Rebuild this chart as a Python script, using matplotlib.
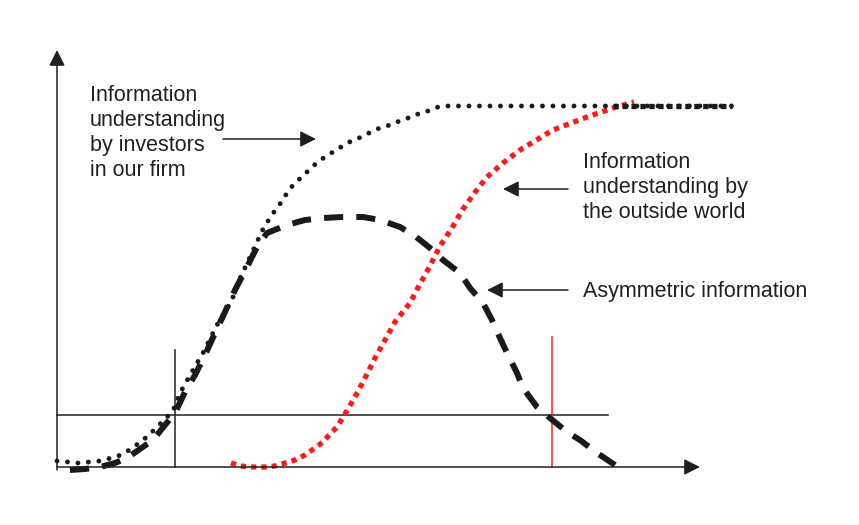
import matplotlib.pyplot as plt

plt.rcParams["font.family"] = ["Liberation Sans", "DejaVu Sans"]

INK = "#231f20"
RED = "#ff1a1a"

# Curves: (time, level), origin at the axes corner
INVESTORS_T = [0, 11, 21, 32, 43, 54, 64, 74, 82, 91, 99, 106, 116, 123, 140, 145,
               160, 175, 180, 193, 207, 213, 219, 226, 231, 238, 246, 254, 262, 271,
               281, 290, 300, 310, 320, 330, 340, 351, 361, 371, 381, 391, 675]
INVESTORS_V = [6, 5, 4, 5, 6, 9, 12, 18, 24, 31, 39, 46, 56, 74, 104, 112,
               142, 167, 182, 210, 240, 249, 258, 267, 276, 284, 291, 299, 306, 312,
               318, 324, 328, 333, 338, 341, 345, 349, 353, 356, 360, 361, 361]

ASYM_T = [13, 28, 43, 58, 70, 83, 96, 108, 118, 128, 138, 148, 158, 168, 178, 190,
          200, 210, 230, 248, 266, 285, 306, 323, 343, 358, 373, 386, 403, 413, 426,
          435, 443, 451, 460, 466, 480, 493, 510, 523, 540, 561]
ASYM_V = [-3, -2, 0, 4, 9, 18, 27, 42, 54, 75, 92, 112, 134, 155, 177, 200,
          220, 234, 242, 247, 249, 250, 250, 247, 240, 231, 219, 207, 194, 179, 164,
          147, 129, 112, 94, 79, 60, 49, 35, 27, 14, 0]

OUTSIDE_T = [174, 183, 196, 208, 218, 228, 238, 248, 258, 266, 273, 280, 288, 298,
             308, 318, 328, 338, 353, 363, 373, 383, 395, 406, 419, 430, 446, 463,
             496, 530, 556, 577]
OUTSIDE_V = [4, 1, 0, 0, 1, 4, 7, 12, 19, 25, 33, 40, 53, 70, 89, 109, 127, 145,
             164, 183, 201, 221, 239, 258, 276, 290, 304, 317, 337, 350, 359, 365]

MERGED_T = [556, 675]
MERGED_V = [361, 361]

THRESHOLD = 52
T_INVESTORS = 118
T_OUTSIDE = 495

LABELS = [
    "Information\nunderstanding\nby investors\nin our firm",
    "Information\nunderstanding by\nthe outside world",
    "Asymmetric information",
]


def arrow(ax, tail, tip, lw=1.1):
    ax.annotate("", xy=tip, xytext=tail,
                arrowprops=dict(arrowstyle="-|>", color=INK, lw=lw,
                                mutation_scale=24, shrinkA=0, shrinkB=0))


def main() -> None:
    fig = plt.figure(figsize=(8.59, 5.25), dpi=100)
    ax = fig.add_axes([0, 0, 1, 1])
    ax.set_xlim(-57, 802)
    ax.set_ylim(-58, 467)
    ax.axis("off")

    # axes with arrow heads
    arrow(ax, (0, -3), (0, 417))
    arrow(ax, (0, 0), (643, 0))

    # reference lines
    ax.plot([0, 551], [THRESHOLD, THRESHOLD], color=INK, lw=1.1)
    ax.plot([T_INVESTORS, T_INVESTORS], [0, 117], color=INK, lw=1.1)
    ax.plot([T_OUTSIDE, T_OUTSIDE], [0, 130], color=RED, lw=1.1)

    ax.plot(ASYM_T, ASYM_V, color="#1a1a1a", lw=4.3,
            linestyle=(0, (3.2, 2.2)), dash_capstyle="butt")
    ax.plot(OUTSIDE_T, OUTSIDE_V, color=RED, lw=3.8,
            linestyle=(0, (1, 0.95)), dash_capstyle="butt")
    ax.plot(INVESTORS_T, INVESTORS_V, color="#1a1a1a", lw=3.5,
            linestyle=(0, (0.01, 2.15)), dash_capstyle="round")
    ax.plot(MERGED_T, MERGED_V, color="#1a1a1a", lw=3.8,
            linestyle=(0, (1, 0.7)), dash_capstyle="butt")

    ax.text(33, 382, LABELS[0], fontsize=15.5, va="top", ha="left",
            linespacing=1.24, color=INK)
    ax.text(526, 315, LABELS[1], fontsize=15.5, va="top", ha="left",
            linespacing=1.24, color=INK)
    ax.text(526, 175, LABELS[2], fontsize=15.5, va="center", ha="left", color=INK)

    arrow(ax, (166, 328), (259, 328))
    arrow(ax, (511, 278), (446, 278))
    arrow(ax, (511, 177), (430, 177))

    fig.savefig("out.png", dpi=100)


if __name__ == "__main__":
    main()
